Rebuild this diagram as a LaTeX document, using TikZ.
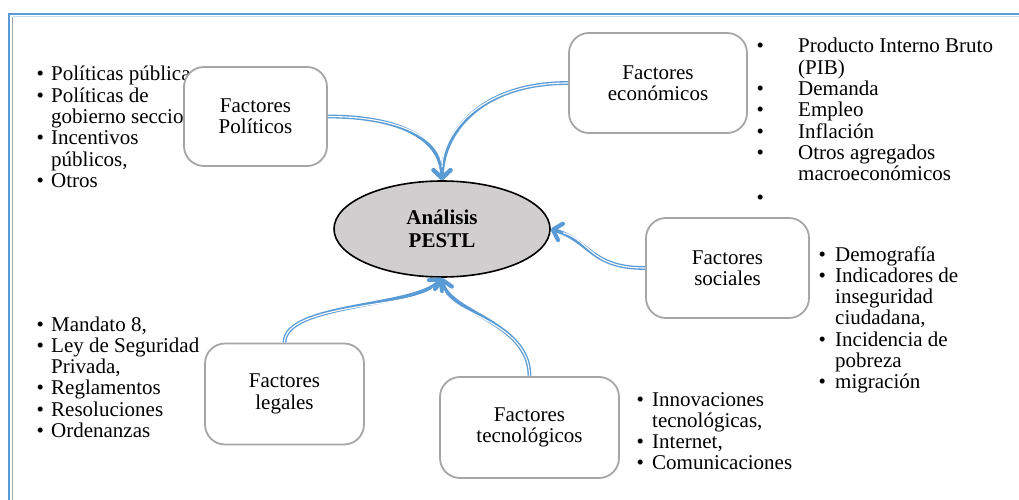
\documentclass[tikz,border=0pt]{standalone}
\usepackage{fontspec}
\setmainfont{Liberation Serif}
\usetikzlibrary{arrows.meta,shapes.geometric}
\definecolor{frameblue}{HTML}{5B9BD5}
\definecolor{boxgrey}{HTML}{A6A6A6}
\definecolor{ellfill}{HTML}{D0CECE}
\tikzset{
  txt/.style={font=\fontsize{21}{21.3}\selectfont},
  fbox/.style={draw=boxgrey, line width=1.8pt, rounded corners=20pt, fill=white,
    align=center, inner sep=0pt, txt},
  lst/.style={anchor=base west, inner sep=0pt, txt},
  connbase/.style={draw=frameblue, line width=3.8pt,
    -{Straight Barb[length=8pt,width=17pt,line width=4.2pt 0,round]}},
  connwhite/.style={draw=white, line width=1.1pt, shorten >=13pt},
}
\newcommand{\pconn}[1]{\draw[connbase] #1; \draw[connwhite] #1;}
\begin{document}
\begin{tikzpicture}[x=1pt,y=-1pt]
\useasboundingbox (0,0) rectangle (1019,500);
% frame
\draw[frameblue, line width=2pt] (8.5,500) -- (8.5,14.5) -- (1019,14.5);
\draw[black!35, line width=1.2pt] (12.5,500) -- (12.5,17);
\draw[frameblue!35, line width=1pt] (12.5,17) -- (1019,17);

% lists
\node[lst] (lpol) at (36.3,81) {\begin{tabular}[t]{@{}p{14.7pt}@{}l@{}}
•&Políticas públicas\\ •&Políticas de\\ &gobierno seccional\\ •&Incentivos\\ &públicos,\\ •&Otros\end{tabular}};
\node[lst] (leco) at (756.3,53) {\begin{tabular}[t]{@{}p{41.7pt}@{}l@{}}
•&Producto Interno Bruto\\ &(PIB)\\ •&Demanda\\ •&Empleo\\ •&Inflación\\ •&Otros agregados\\ &macroeconómicos\\[2pt] •&\end{tabular}};
\node[lst] (lsoc) at (818.3,261) {\begin{tabular}[t]{@{}p{16.7pt}@{}l@{}}
•&Demografía\\ •&Indicadores de\\ &inseguridad\\ &ciudadana,\\ •&Incidencia de\\ &pobreza\\ •&migración\end{tabular}};
\node[lst] (lleg) at (36.3,331) {\begin{tabular}[t]{@{}p{14.7pt}@{}l@{}}
•&Mandato 8,\\ •&Ley de Seguridad\\ &Privada,\\ •&Reglamentos\\ •&Resoluciones\\ •&Ordenanzas\end{tabular}};
\node[lst] (ltec) at (636.3,406) {\begin{tabular}[t]{@{}p{15.7pt}@{}l@{}}
•&Innovaciones\\ &tecnológicas,\\ •&Internet,\\ •&Comunicaciones\end{tabular}};

% boxes
\node[fbox, minimum width=143pt, minimum height=99pt] (pol) at (255.5,116.5) {Factores\\Políticos};
\node[fbox, minimum width=178pt, minimum height=100pt] (eco) at (658,83) {Factores\\económicos};
\node[fbox, minimum width=163pt, minimum height=100pt] (soc) at (727.5,268) {Factores\\sociales};
\node[fbox, minimum width=159pt, minimum height=101pt] (leg) at (284.5,394) {Factores\\legales};
\node[fbox, minimum width=179pt, minimum height=101pt] (tec) at (529.5,427.5) {Factores\\tecnológicos};

% centre
\node[ellipse, draw=black, line width=1.6pt, fill=ellfill, minimum width=216pt,
  minimum height=96pt, inner sep=0pt, align=center,
  font=\fontsize{21}{23}\selectfont\bfseries] (ana) at (442,229) {Análisis\\PESTL};

% connectors
\pconn{(pol.east) .. controls +(75,0) and +(0,-40) .. (ana.north)}
\pconn{(eco.west) .. controls +(-90,0) and +(0,-45) .. (ana.north)}
\pconn{(soc.west) .. controls +(-55,0) and +(40,12) .. (ana.east)}
\pconn{(leg.north) .. controls +(0,-40) and +(-25,30) .. (ana.south)}
\pconn{(tec.north) .. controls +(0,-55) and +(5,35) .. (ana.south)}
\end{tikzpicture}
\end{document}
